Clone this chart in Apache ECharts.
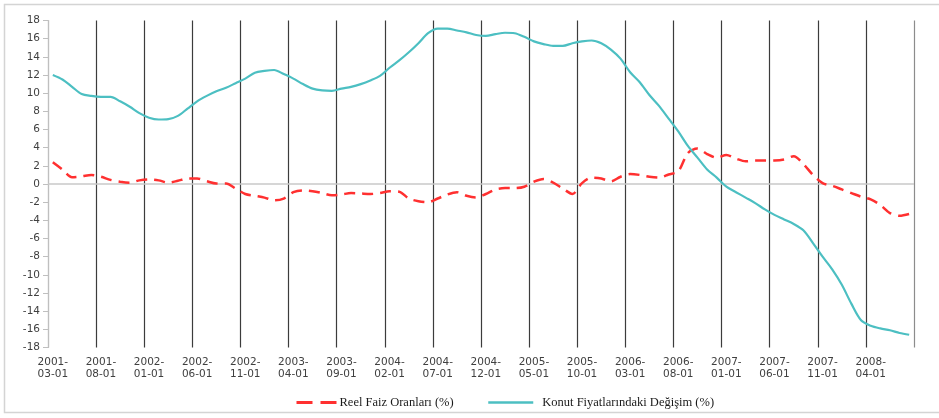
<!DOCTYPE html>
<html>
<head>
<meta charset="utf-8">
<script src="https://cdn.jsdelivr.net/npm/echarts@6/dist/echarts.min.js"></script>
<style>
  html, body { margin: 0; padding: 0; background: #ffffff; }
  #chart { width: 939px; height: 418px; }
</style>
</head>
<body>
<div id="chart"></div>
<script>
// Monthly observations, March 2001 – August 2008
const months = [
  '2001-03-01','2001-04-01','2001-05-01','2001-06-01','2001-07-01','2001-08-01','2001-09-01','2001-10-01','2001-11-01','2001-12-01',
  '2002-01-01','2002-02-01','2002-03-01','2002-04-01','2002-05-01','2002-06-01','2002-07-01','2002-08-01','2002-09-01','2002-10-01',
  '2002-11-01','2002-12-01','2003-01-01','2003-02-01','2003-03-01','2003-04-01','2003-05-01','2003-06-01','2003-07-01','2003-08-01',
  '2003-09-01','2003-10-01','2003-11-01','2003-12-01','2004-01-01','2004-02-01','2004-03-01','2004-04-01','2004-05-01','2004-06-01',
  '2004-07-01','2004-08-01','2004-09-01','2004-10-01','2004-11-01','2004-12-01','2005-01-01','2005-02-01','2005-03-01','2005-04-01',
  '2005-05-01','2005-06-01','2005-07-01','2005-08-01','2005-09-01','2005-10-01','2005-11-01','2005-12-01','2006-01-01','2006-02-01',
  '2006-03-01','2006-04-01','2006-05-01','2006-06-01','2006-07-01','2006-08-01','2006-09-01','2006-10-01','2006-11-01','2006-12-01',
  '2007-01-01','2007-02-01','2007-03-01','2007-04-01','2007-05-01','2007-06-01','2007-07-01','2007-08-01','2007-09-01','2007-10-01',
  '2007-11-01','2007-12-01','2008-01-01','2008-02-01','2008-03-01','2008-04-01','2008-05-01','2008-06-01','2008-07-01','2008-08-01'
];

// Real interest rate (%)
const realRate = [
  2.4, 1.6, 0.75, 0.85, 1.0, 0.8, 0.45, 0.25, 0.15, 0.4,
  0.5, 0.4, 0.15, 0.35, 0.6, 0.6, 0.3, 0.05, 0.05, -0.5,
  -1.1, -1.3, -1.5, -1.8, -1.6, -0.9, -0.7, -0.8, -1.0, -1.25,
  -1.15, -1.0, -1.05, -1.1, -1.0, -0.8, -0.85, -1.6, -1.9, -2.0,
  -1.6, -1.15, -0.9, -1.3, -1.5, -1.1, -0.6, -0.45, -0.45, -0.3,
  0.25, 0.55, 0.15, -0.5, -1.1, 0.1, 0.7, 0.6, 0.3, 0.8,
  1.1, 1.0, 0.8, 0.7, 1.05, 1.4, 3.4, 3.9, 3.3, 2.9,
  3.2, 2.8, 2.5, 2.6, 2.6, 2.6, 2.7, 3.05, 2.2, 1.0,
  0.1, -0.2, -0.6, -1.0, -1.4, -1.7, -2.3, -3.2, -3.5, -3.3
];

// Change in house prices (%)
const housePrice = [
  12.0, 11.5, 10.7, 9.9, 9.7, 9.6, 9.6, 9.1, 8.5, 7.8,
  7.3, 7.1, 7.15, 7.5, 8.3, 9.1, 9.7, 10.2, 10.6, 11.1,
  11.6, 12.25, 12.45, 12.55, 12.1, 11.6, 11.0, 10.5, 10.3, 10.25,
  10.5, 10.7, 11.0, 11.4, 11.9, 12.8, 13.6, 14.5, 15.5, 16.6,
  17.1, 17.1, 16.9, 16.7, 16.4, 16.3, 16.5, 16.65, 16.6, 16.2,
  15.7, 15.4, 15.2, 15.2, 15.5, 15.7, 15.8, 15.5, 14.8, 13.8,
  12.3, 11.2, 9.8, 8.6, 7.2, 5.8, 4.2, 2.9, 1.6, 0.7,
  -0.3, -0.9, -1.5, -2.1, -2.8, -3.4, -3.9, -4.4, -5.1, -6.5,
  -8.0, -9.4, -11.1, -13.2, -15.0, -15.6, -15.9, -16.1, -16.4, -16.6
];

const seriesNames = ['Reel Faiz Oranları (%)', 'Konut Fiyatlarındaki Değişim (%)'];

const RED = '#ff3030';
const TEAL = '#4cbfc2';
const axisFont = 'DejaVu Sans';

// Every fifth month gets a gridline; the first and last ones are lighter
const gridColors = [];
for (let k = 0; k <= months.length / 5; k++) {
  if (k === 0) gridColors.push('#bfbfbf');
  else if (k === months.length / 5) gridColors.push('#8c8c8c');
  else gridColors.push('#3c3c3c');
}

const legendText = { fontFamily: 'Liberation Serif', fontSize: 12.5, color: '#1a1a1a' };

const chart = echarts.init(document.getElementById('chart'), null, { renderer: 'canvas' });

chart.setOption({
  animation: false,
  backgroundColor: '#ffffff',
  graphic: [{
    type: 'rect',
    shape: { x: 4.5, y: 4.5, width: 960, height: 408 },
    style: { fill: 'none', stroke: '#d4d4d4', lineWidth: 1.5 },
    silent: true,
    z: -1
  }],
  grid: { left: 48, right: 25, top: 20.5, bottom: 70.5, containLabel: false },
  legend: [{
    data: [seriesNames[0]],
    left: 290, top: 391,
    itemWidth: 41, itemHeight: 10,
    itemStyle: { opacity: 0 },
    lineStyle: { type: [16, 8], width: 3 },
    textStyle: Object.assign({ padding: [0, 0, 0, -3] }, legendText)
  }, {
    data: [seriesNames[1]],
    left: 482, top: 391,
    itemWidth: 45, itemHeight: 10,
    itemStyle: { opacity: 0 },
    lineStyle: { width: 2.5 },
    textStyle: Object.assign({ padding: [0, 0, 0, 4] }, legendText)
  }],
  xAxis: {
    type: 'category',
    data: months,
    boundaryGap: true,
    axisLine: { show: false },
    axisTick: { show: false },
    axisLabel: {
      interval: 4,
      margin: 9,
      fontFamily: axisFont,
      fontSize: 10.5,
      lineHeight: 12,
      color: '#404040',
      formatter: v => v.slice(0, 5) + '\n' + v.slice(5)
    },
    splitLine: {
      show: true,
      interval: 4,
      lineStyle: { color: gridColors, width: 1.2 }
    }
  },
  yAxis: {
    type: 'value',
    min: -18, max: 18, interval: 2,
    axisLine: { show: true, lineStyle: { color: '#bfbfbf', width: 1.2 } },
    axisTick: { show: true, length: 5, lineStyle: { color: '#bfbfbf' } },
    axisLabel: { margin: 8, fontFamily: axisFont, fontSize: 10.5, color: '#404040' },
    splitLine: { show: false }
  },
  series: [{
    name: seriesNames[0],
    type: 'line',
    data: realRate,
    symbol: 'none',
    smooth: 0.3,
    color: RED,
    lineStyle: { color: RED, width: 2.5, type: [11, 7] },
    z: 3
  }, {
    name: seriesNames[1],
    type: 'line',
    data: housePrice,
    symbol: 'none',
    smooth: 0.3,
    color: TEAL,
    lineStyle: { color: TEAL, width: 2.2 },
    z: 4,
    markLine: {
      silent: true,
      symbol: 'none',
      label: { show: false },
      lineStyle: { color: '#c8c8c8', width: 1.5, type: 'solid' },
      data: [{ yAxis: 0 }],
      z: 1
    }
  }]
});
</script>
</body>
</html>
